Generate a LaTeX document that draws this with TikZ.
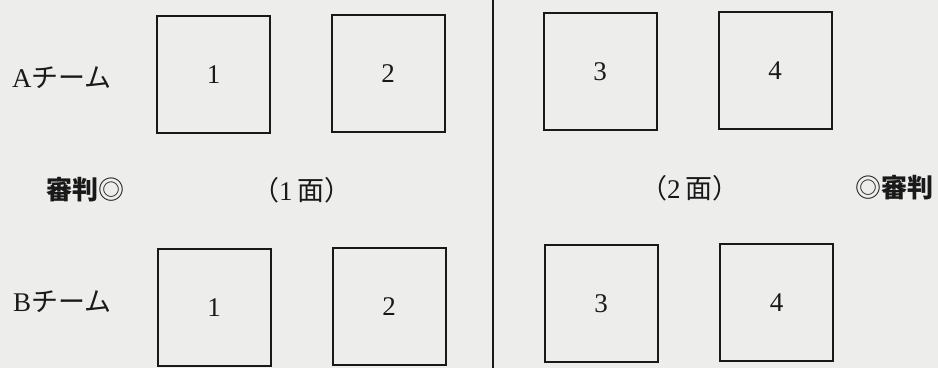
\documentclass[tikz,border=0pt]{standalone}
\usepackage{fontspec}
\setmainfont{Liberation Serif}
\newfontfamily\cjk{Noto Sans CJK JP}
\definecolor{paper}{RGB}{237,237,235}
\definecolor{ink}{RGB}{25,25,25}
\begin{document}
\begin{tikzpicture}[x=1pt,y=-1pt,
  court/.style={draw=ink,line width=2pt,minimum width=113pt,minimum height=117pt,inner sep=0pt,
    font=\fontsize{27}{30}\selectfont,text=ink},
  lbl/.style={inner sep=0pt,text=ink,font=\fontsize{27}{30}\selectfont},
  ref/.style={inner sep=0pt,text=ink,font=\fontsize{26}{30}\selectfont}]
\fill[paper] (0,0) rectangle (938,368);
\useasboundingbox (0,0) rectangle (938,368);
% top row
\node[court] (a1) at (213.5,74.5) {1};
\node[court] (a2) at (388,73.5) {2};
\node[court] (a3) at (600,71.5) {3};
\node[court] (a4) at (775,70.5) {4};
% bottom row
\node[court] (b1) at (214,307.5) {1};
\node[court] (b2) at (389,306.5) {2};
\node[court] (b3) at (601,303.5) {3};
\node[court] (b4) at (776.5,302.5) {4};
% team labels
\node[lbl,anchor=west] (ta) at (12,78) {A{\cjk チーム}};
\node[lbl,anchor=west] (tb) at (13,302) {B{\cjk チーム}};
% referee and court labels
\node[ref,anchor=west] (r1) at (46,190) {{\cjk\bfseries 審判}{\cjk ◎}};
\node[lbl,anchor=west] (m1) at (252,190) {{\cjk （}1\,{\cjk 面）}};
\node[lbl,anchor=west] (m2) at (640,188) {{\cjk （}2\,{\cjk 面）}};
\node[ref,anchor=east] (r2) at (934,188) {{\cjk ◎}{\cjk\bfseries 審判}};
% divider
\coordinate (dtop) at (493,0);
\coordinate (dbot) at (493,368);
\draw[ink,line width=2pt] (dtop) -- (dbot);
\end{tikzpicture}
\end{document}
